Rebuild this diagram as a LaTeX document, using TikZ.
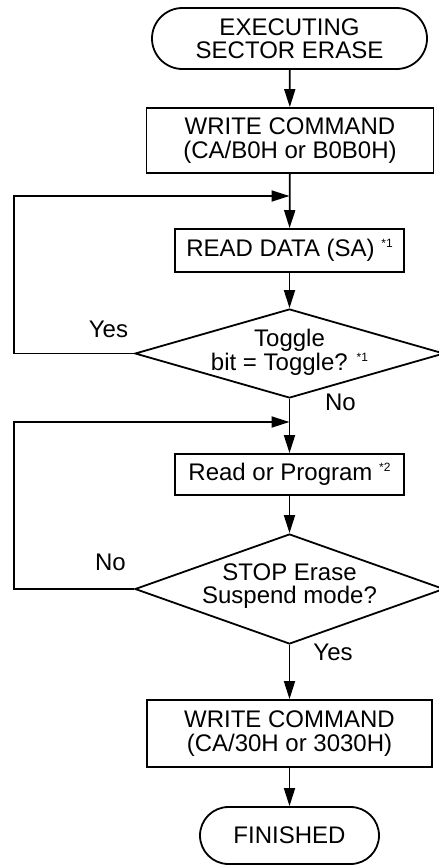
\documentclass[tikz,border=0pt]{standalone}
\usepackage{fontspec}
\setmainfont{Liberation Sans}
\usetikzlibrary{arrows.meta,shapes.geometric,shapes.misc}
\newcommand{\supnote}[1]{\raisebox{9pt}{\fontsize{12}{12}\selectfont #1}}
\begin{document}
\begin{tikzpicture}[x=1pt,y=-1pt, line width=1.8pt,
  >={Triangle[length=18pt,width=11pt]},
  every node/.style={font=\fontsize{24}{23.5}\selectfont, align=center, inner sep=0pt},
  term/.style={draw, rounded rectangle},
  procbox/.style={draw, rectangle},
  decide/.style={draw, diamond},
  lbl/.style={}]
\useasboundingbox (0,0) rectangle (439,865);

\node[term, minimum width=275pt, minimum height=61pt] (t1) at (289.5,38.5) {EXECUTING\\SECTOR ERASE};
\node[procbox, minimum width=287pt, minimum height=65pt] (b1) at (290,140.5) {WRITE COMMAND\\(CA/B0H or B0B0H)};
\node[procbox, minimum width=229pt, minimum height=43pt] (b2) at (289.5,250.5) {READ DATA (SA) \supnote{*1}};
\node[decide, minimum width=309pt, minimum height=89pt] (d1) at (289.5,353.5) {};
\node (d1t) at (289.5,352.5) {Toggle\\bit = Toggle? \supnote{*1}};
\node[procbox, minimum width=229pt, minimum height=41pt] (b3) at (289.5,474.5) {Read or Program \supnote{*2}};
\node[decide, minimum width=309pt, minimum height=110pt] (d2) at (289.5,589) {};
\node (d2t) at (289.5,586) {STOP Erase\\Suspend mode?};
\node[procbox, minimum width=285pt, minimum height=67pt] (b4) at (289.5,733.5) {WRITE COMMAND\\(CA/30H or 3030H)};
\node[term, minimum width=179pt, minimum height=57pt] (t2) at (289.5,835.5) {FINISHED};

\node[lbl] (yes1) at (108.5,329) {Yes};
\node[lbl] (no1) at (340.5,402) {No};
\node[lbl] (no2) at (110.5,562) {No};
\node[lbl] (yes2) at (333,652) {Yes};

\coordinate (j1) at (289.5,196);
\coordinate (l1) at (14,196);
\coordinate (j2) at (289.5,422);
\coordinate (l2) at (14,422);

\draw[->] (t1) -- (b1);
\draw[->] (b1) -- (b2);
\draw[->] (b2) -- (d1);
\draw[->] (d1) -- (b3);
\draw[->] (b3) -- (d2);
\draw[->] (d2) -- (b4);
\draw[->] (b4) -- (t2);
\draw[->] (d1.west) -| (l1) -- (j1);
\draw[->] (d2.west) -| (l2) -- (j2);
\end{tikzpicture}
\end{document}
